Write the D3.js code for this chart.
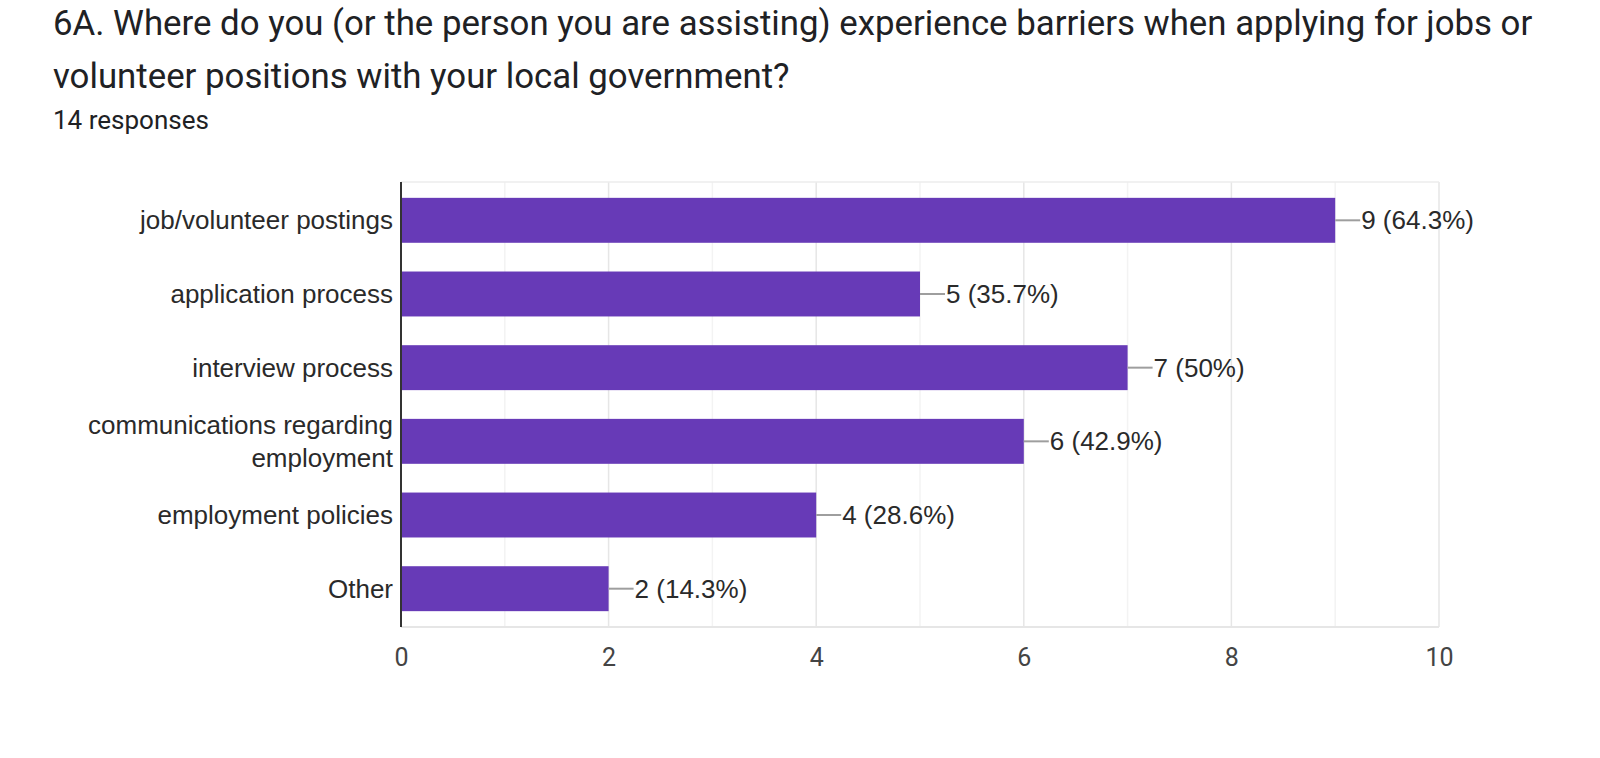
<!DOCTYPE html>
<html>
<head>
<meta charset="utf-8">
<script src="https://cdn.jsdelivr.net/npm/d3@7"></script>
<style>
  html, body { margin: 0; padding: 0; background: #fff; }
  svg { display: block; }
</style>
</head>
<body>
<svg id="chart" width="1600" height="758"></svg>
<script>
const titleLines = [
  "6A. Where do you (or the person you are assisting) experience barriers when applying for jobs or",
  "volunteer positions with your local government?"
];
const subtitle = "14 responses";
const categories = [
  "job/volunteer postings",
  "application process",
  "interview process",
  "communications regarding employment",
  "employment policies",
  "Other"
];
const categoryLines = [
  ["job/volunteer postings"],
  ["application process"],
  ["interview process"],
  ["communications regarding", "employment"],
  ["employment policies"],
  ["Other"]
];
const values = [9, 5, 7, 6, 4, 2];
const percentLabels = ["64.3%", "35.7%", "50%", "42.9%", "28.6%", "14.3%"];
const majorTicks = [0, 2, 4, 6, 8, 10];
const minorTicks = [1, 3, 5, 7, 9];

const svg = d3.select("#chart");

// Title
const title = svg.append("g");
title.selectAll("text.title").data(titleLines).join("text")
  .attr("class", "title")
  .attr("x", 53)
  .attr("y", (d, i) => 35 + i * 53)
  .attr("font-family", "Roboto, sans-serif")
  .attr("font-size", 34.8)
  .attr("fill", "#202124")
  .text(d => d);
title.append("text")
  .attr("x", 53).attr("y", 129)
  .attr("font-family", "Roboto, sans-serif")
  .attr("font-size", 26)
  .attr("fill", "#202124")
  .text(subtitle);

const plotTop = 182, plotBottom = 627, plotLeft = 401, plotRight = 1439;

const x = d3.scaleLinear().domain([0, 10]).range([plotLeft, plotRight]);
const y = d3.scaleBand().domain(categories).range([plotTop, plotBottom])
  .paddingInner(0.39).paddingOuter(0.215);

// Gridlines
const grid = svg.append("g");
grid.selectAll("line.minor").data(minorTicks).join("line")
  .attr("x1", d => x(d)).attr("x2", d => x(d))
  .attr("y1", plotTop).attr("y2", plotBottom)
  .attr("stroke", "#f3f3f3").attr("stroke-width", 1.5);
grid.selectAll("line.major").data(majorTicks.slice(1)).join("line")
  .attr("x1", d => x(d)).attr("x2", d => x(d))
  .attr("y1", plotTop).attr("y2", plotBottom)
  .attr("stroke", "#e6e6e6").attr("stroke-width", 1.5);
// frame top/bottom
grid.append("line").attr("x1", plotLeft).attr("x2", plotRight)
  .attr("y1", plotTop).attr("y2", plotTop).attr("stroke", "#ececec").attr("stroke-width", 1.5);
grid.append("line").attr("x1", plotLeft).attr("x2", plotRight)
  .attr("y1", plotBottom).attr("y2", plotBottom).attr("stroke", "#e6e6e6").attr("stroke-width", 2);

// Bars
svg.append("g").selectAll("rect").data(values).join("rect")
  .attr("x", x(0))
  .attr("y", (d, i) => y(categories[i]))
  .attr("width", d => x(d) - x(0))
  .attr("height", y.bandwidth())
  .attr("fill", "#673ab7");

// Leader lines and value labels
const ann = svg.append("g");
ann.selectAll("line").data(values).join("line")
  .attr("x1", d => x(d)).attr("x2", d => x(d) + 25)
  .attr("y1", (d, i) => y(categories[i]) + y.bandwidth() / 2)
  .attr("y2", (d, i) => y(categories[i]) + y.bandwidth() / 2)
  .attr("stroke", "#9e9e9e").attr("stroke-width", 2);
ann.selectAll("text").data(values).join("text")
  .attr("x", d => x(d) + 26)
  .attr("y", (d, i) => y(categories[i]) + y.bandwidth() / 2)
  .attr("dy", "0.35em")
  .attr("font-family", "Arial, 'Liberation Sans', sans-serif")
  .attr("font-size", 26)
  .attr("fill", "#2a2a2a")
  .text((d, i) => `${d} (${percentLabels[i]})`);

// Y axis line
svg.append("line")
  .attr("x1", plotLeft).attr("x2", plotLeft)
  .attr("y1", plotTop).attr("y2", plotBottom)
  .attr("stroke", "#333").attr("stroke-width", 2);

// Category labels
const lab = svg.append("g");
categoryLines.forEach((lines, i) => {
  const cy = y(categories[i]) + y.bandwidth() / 2;
  const lh = 33;
  const start = cy - (lines.length - 1) * lh / 2;
  lines.forEach((t, j) => {
    lab.append("text")
      .attr("x", plotLeft - 8)
      .attr("y", start + j * lh)
      .attr("dy", "0.35em")
      .attr("text-anchor", "end")
      .attr("font-family", "Arial, 'Liberation Sans', sans-serif")
      .attr("font-size", 26)
      .attr("fill", "#2a2a2a")
      .text(t);
  });
});

// X tick labels
const xAxis = d3.axisBottom(x).tickValues(majorTicks).tickSize(0).tickPadding(0);
const gx = svg.append("g").attr("transform", `translate(0, ${plotBottom})`).call(xAxis);
gx.select(".domain").remove();
gx.selectAll("text")
  .attr("y", 39)
  .attr("dy", 0)
  .attr("font-family", "Roboto, sans-serif")
  .attr("font-size", 25)
  .attr("fill", "#444");
</script>
</body>
</html>
